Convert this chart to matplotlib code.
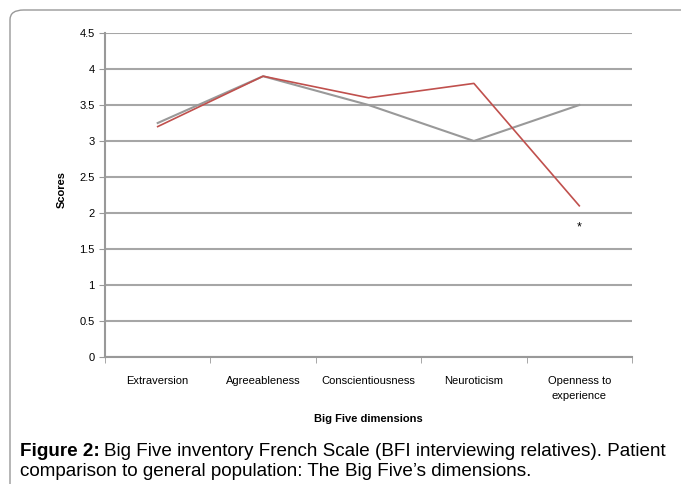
import matplotlib
matplotlib.use("Agg")
import matplotlib.pyplot as plt
from matplotlib.patches import FancyBboxPatch

# data
dimensions = ['Extraversion', 'Agreeableness', 'Conscientiousness', 'Neuroticism', 'Openness to\nexperience']
population = [3.25, 3.9, 3.5, 3.0, 3.5]
patient = [3.2, 3.9, 3.6, 3.8, 2.1]
star_value = 1.8

plt.rcParams['font.family'] = ['Liberation Sans', 'DejaVu Sans']

fig = plt.figure(figsize=(6.81, 4.84), dpi=100)

# rounded frame around the figure (runs off the right and bottom edges)
frame = FancyBboxPatch((10 / 681, -0.2), 1.2, 1.2 - 10 / 484,
                       boxstyle="round,pad=0,rounding_size=0.02",
                       transform=fig.transFigure, fill=False,
                       edgecolor='#999999', linewidth=1.0, clip_on=False)
fig.patches.append(frame)

ax = fig.add_axes([105 / 681, 1 - 357 / 484, (632 - 105) / 681, (357 - 33) / 484])

x = list(range(len(dimensions)))
ax.plot(x, population, color='#999999', lw=1.5, zorder=3)
ax.plot(x, patient, color='#c0504d', lw=1.2, zorder=4)
ax.text(4, star_value, '*', ha='center', va='center', fontsize=9, color='black')

ax.set_xlim(-0.5, 4.5)
ax.set_ylim(0, 4.5)
ax.set_yticks([0, 0.5, 1, 1.5, 2, 2.5, 3, 3.5, 4, 4.5])
ax.set_yticklabels(['0', '0.5', '1', '1.5', '2', '2.5', '3', '3.5', '4', '4.5'])
ax.set_xticks(x)
ax.set_xticklabels(dimensions, fontsize=8, linespacing=1.6)
ax.set_xticks([-0.5, 0.5, 1.5, 2.5, 3.5, 4.5], minor=True)
ax.tick_params(axis='x', which='major', length=0, pad=14)
ax.tick_params(axis='x', which='minor', length=4, color='#999999')
ax.tick_params(axis='y', labelsize=8, length=4, color='#999999')
ax.yaxis.grid(True, color='#a6a6a6', lw=1.5)
ax.set_axisbelow(True)
for s in ['top', 'right']:
    ax.spines[s].set_visible(False)
ax.spines['left'].set_color('#999999')
ax.spines['left'].set_linewidth(1.5)
ax.spines['bottom'].set_color('#999999')
ax.spines['bottom'].set_linewidth(1.5)

fig.text(62 / 681, 1 - 190 / 484, 'Scores', fontsize=8, fontweight='bold',
         rotation=90, ha='center', va='center')
ax.set_xlabel('Big Five dimensions', fontsize=8, fontweight='bold', labelpad=9)

# caption, with the bold lead-in placed first
cap_y1 = 1 - 452 / 484
cap_y2 = 1 - 471 / 484
lead = fig.text(20 / 681, cap_y1, 'Figure 2:', fontsize=13.6, fontweight='bold',
                va='center', ha='left')
r = fig.canvas.get_renderer()
bb = lead.get_window_extent(renderer=r)
fig.text((bb.x1 + 4) / 681, cap_y1,
         'Big Five inventory French Scale (BFI interviewing relatives). Patient',
         fontsize=13.6, va='center', ha='left')
fig.text(20 / 681, cap_y2, 'comparison to general population: The Big Five\u2019s dimensions.',
         fontsize=13.6, va='center', ha='left')

fig.savefig('out.png', dpi=100)
